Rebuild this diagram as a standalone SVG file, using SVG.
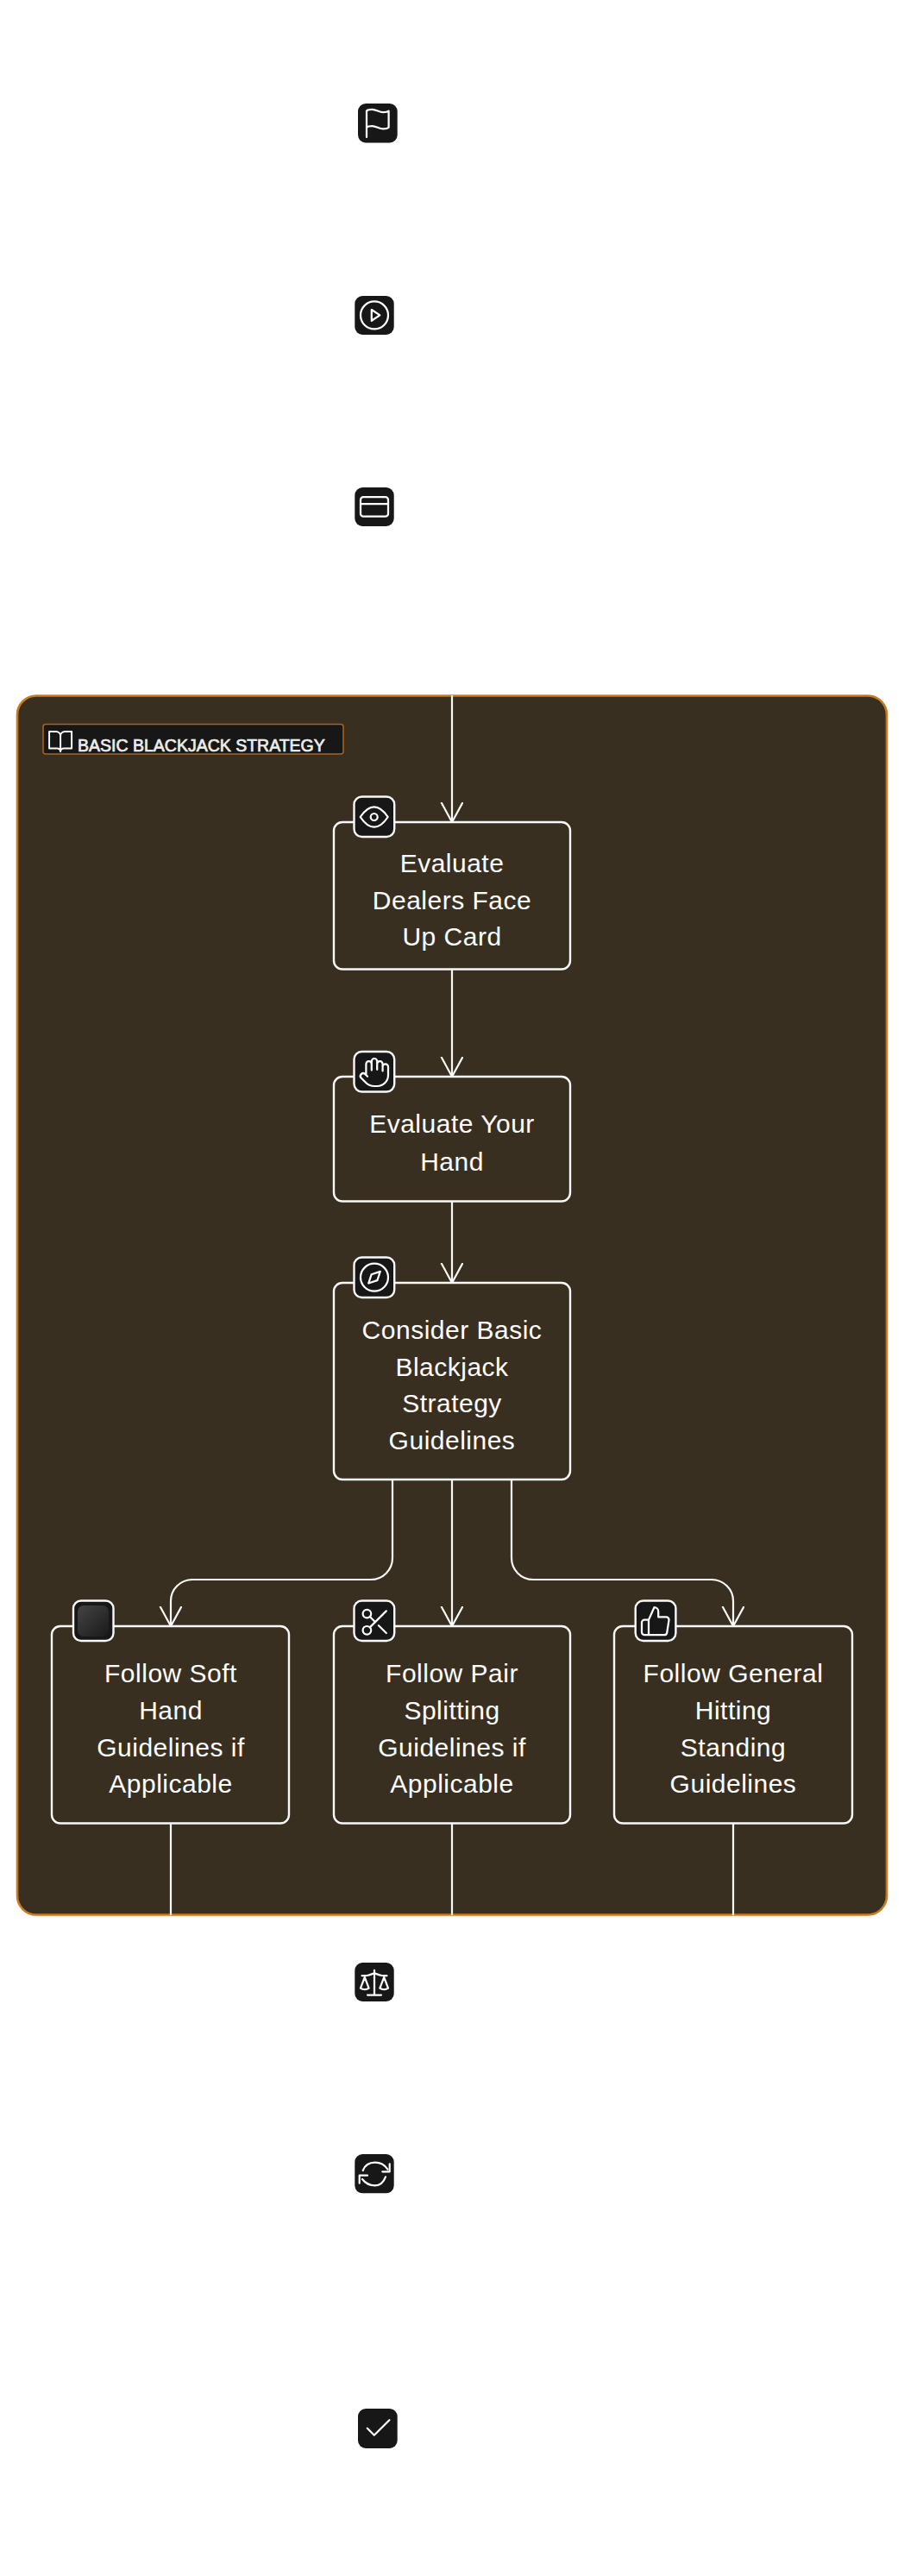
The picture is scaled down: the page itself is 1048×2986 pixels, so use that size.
<svg xmlns="http://www.w3.org/2000/svg" width="1048" height="2986" viewBox="0 0 1048 2986">
<style>
.ic{fill:none;stroke:#fff;stroke-width:1.4;stroke-linecap:round;stroke-linejoin:round}
.free{fill:#171717;stroke:none}
.badge{fill:#171717;stroke:#f8f8f8;stroke-width:2.4}
.box{fill:#392f20;stroke:#f8f8f8;stroke-width:2.4}
.edge{fill:none;stroke:#f8f8f8;stroke-width:2.2}
.t{font-family:"Liberation Sans",Arial,sans-serif;font-size:30px;letter-spacing:.5px;fill:#fff;text-anchor:middle}
.title{font-family:"Liberation Sans",Arial,sans-serif;font-size:19.500px;fill:#ececec;stroke:#ececec;stroke-width:.7}
</style>
<defs>
<marker id="arrow" markerUnits="userSpaceOnUse" markerWidth="28" markerHeight="28" refX="23" refY="13" orient="auto">
<path d="M0 .5L23 13L0 25.500" fill="none" stroke="#f8f8f8" stroke-width="2.200"/>
</marker>
<linearGradient id="blank" x1="0" y1="0" x2="1" y2="1"><stop offset="0" stop-color="#444"/><stop offset="1" stop-color="#1a1a1a"/></linearGradient>
</defs>
<rect width="1048" height="2986" fill="#fff"/>
<g id="cluster-strategy">
<rect x="20" y="806.500" width="1008" height="1413" rx="22" fill="#392f20" stroke="#c97a1e" stroke-width="2.600"/>
<rect x="50" y="839.500" width="348" height="34.500" rx="3" fill="#171717" stroke="#a9651f" stroke-width="1.500"/>
<g class="ic" transform="translate(54.500,844) scale(1.3)" style="stroke-width:1.500"><path d="M2 3h6a4 4 0 0 1 4 4v14a3 3 0 0 0-3-3H2zM22 3h-6a4 4 0 0 0-4 4v14a3 3 0 0 1 3-3h7z"/></g>
<text class="title" x="90" y="871">BASIC BLACKJACK STRATEGY</text>
</g>
<g id="node-start"><rect class="free" x="415" y="120" width="45.700" height="45.500" rx="9"/><g class="ic" transform="translate(418.600,123.700) scale(1.6)"><path d="M4 15s1-1 4-1 5 2 8 2 4-1 4-1V3s-1 1-4 1-5-2-8-2-4 1-4 1zM4 22v-7"/></g></g>
<g id="node-play"><rect class="free" x="411.300" y="343" width="45.400" height="45" rx="9"/><g class="ic" transform="translate(414.800,346.200) scale(1.6)"><circle cx="12" cy="12" r="10"/><path d="M10 8l6 4-6 4z"/></g></g>
<g id="node-card"><rect class="free" x="411.300" y="565" width="45.400" height="45" rx="9"/><g class="ic" transform="translate(414.800,568.200) scale(1.6)"><rect x="2" y="5" width="20" height="14" rx="2"/><path d="M2 10h20"/></g></g>
<g id="connectors">
<path class="edge" d="M524 806V953" marker-end="url(#arrow)"/>
<path class="edge" d="M524 1124V1248" marker-end="url(#arrow)"/>
<path class="edge" d="M524 1393V1487" marker-end="url(#arrow)"/>
<path class="edge" d="M455 1715V1806a25 25 0 0 1-25 25H223a25 25 0 0 0-25 25V1885" marker-end="url(#arrow)"/>
<path class="edge" d="M524 1715V1885" marker-end="url(#arrow)"/>
<path class="edge" d="M593 1715V1806a25 25 0 0 0 25 25H825a25 25 0 0 1 25 25V1885" marker-end="url(#arrow)"/>
</g>
<g id="node-dealer"><rect class="box" x="387" y="953" width="274" height="170.500" rx="10"/><rect class="badge" x="410.500" y="923.500" width="46.700" height="46.500" rx="9"/><g class="ic" transform="translate(414.500,927.800) scale(1.6)"><path d="M2 12C5 7.500 8.500 4.700 12 4.700S19 7.500 22 12C19 16.500 15.500 19.300 12 19.300S5 16.500 2 12Z"/><circle cx="12" cy="12" r="2.500"/></g>
<text class="t" x="524" y="1011">Evaluate</text><text class="t" x="524" y="1054">Dealers Face</text><text class="t" x="524" y="1096">Up Card</text></g>
<g id="node-hand"><rect class="box" x="387" y="1248" width="274" height="144.500" rx="10"/><rect class="badge" x="410.500" y="1219" width="46.700" height="46.500" rx="9"/><g class="ic" transform="translate(414.800,1223.800) scale(1.6)"><path d="M18 11V6a2 2 0 0 0-4 0M14 10V4a2 2 0 0 0-4 0v2M10 10.500V6a2 2 0 0 0-4 0v8M18 8a2 2 0 1 1 4 0v6a8 8 0 0 1-8 8h-2c-2.800 0-4.500-.86-5.990-2.340l-3.600-3.600a2 2 0 0 1 2.830-2.820L7 15"/></g>
<text class="t" x="524" y="1313">Evaluate Your</text><text class="t" x="524" y="1357">Hand</text></g>
<g id="node-consider"><rect class="box" x="387" y="1487" width="274" height="228" rx="10"/><rect class="badge" x="410.500" y="1457.500" width="46.700" height="46.500" rx="9"/><g class="ic" transform="translate(414.800,1461.500) scale(1.6)"><circle cx="12" cy="12" r="10"/><path d="M16.240 7.760l-2.120 6.360-6.360 2.120 2.120-6.360z"/></g>
<text class="t" x="524" y="1552">Consider Basic</text><text class="t" x="524" y="1595">Blackjack</text><text class="t" x="524" y="1637">Strategy</text><text class="t" x="524" y="1680">Guidelines</text></g>
<g id="node-soft"><rect class="box" x="60" y="1885" width="275" height="228.500" rx="10"/><rect class="badge" x="85" y="1855.500" width="46.500" height="46.500" rx="9"/><rect x="90" y="1861" width="36" height="36" rx="7" fill="url(#blank)"/>
<text class="t" x="198" y="1950">Follow Soft</text><text class="t" x="198" y="1993">Hand</text><text class="t" x="198" y="2036">Guidelines if</text><text class="t" x="198" y="2078">Applicable</text></g>
<g id="node-pair"><rect class="box" x="387" y="1885" width="274" height="228.500" rx="10"/><rect class="badge" x="410.500" y="1855.500" width="46.700" height="46.500" rx="9"/><g class="ic" transform="translate(415.800,1861) scale(1.6)"><circle cx="6" cy="6" r="3"/><circle cx="6" cy="18" r="3"/><path d="M20 4L8.120 15.880M14.470 14.480L20 20M8.120 8.120L12 12"/></g>
<text class="t" x="524" y="1950">Follow Pair</text><text class="t" x="524" y="1993">Splitting</text><text class="t" x="524" y="2036">Guidelines if</text><text class="t" x="524" y="2078">Applicable</text></g>
<g id="node-general"><rect class="box" x="712" y="1885" width="276" height="228.500" rx="10"/><rect class="badge" x="736.700" y="1855.500" width="46.700" height="46.500" rx="9"/><g class="ic" transform="translate(740.800,1860) scale(1.6)"><path d="M14 9V5a3 3 0 0 0-3-3l-4 9v11h11.280a2 2 0 0 0 2-1.700l1.380-9a2 2 0 0 0-2-2.300zM7 22H4a2 2 0 0 1-2-2v-7a2 2 0 0 1 2-2h3"/></g>
<text class="t" x="850" y="1950">Follow General</text><text class="t" x="850" y="1993">Hitting</text><text class="t" x="850" y="2036">Standing</text><text class="t" x="850" y="2078">Guidelines</text></g>
<g id="exits"><path class="edge" d="M198 2114V2220M524 2114V2220M850 2114V2220"/></g>
<g id="node-balance"><rect class="free" x="411.300" y="2275" width="45.400" height="45" rx="9"/><g class="ic" transform="translate(414.800,2279) scale(1.6)"><path d="M16 16l3-8 3 8c-.87.65-1.920 1-3 1s-2.130-.35-3-1zM2 16l3-8 3 8c-.87.65-1.920 1-3 1s-2.130-.35-3-1zM7 21h10M12 3v18M3 7h2c2 0 5-1 7-2 2 1 5 2 7 2h2"/></g></g>
<g id="node-refresh"><rect class="free" x="411.300" y="2497" width="45.400" height="45.300" rx="9"/><path d="M420.700 2516C423 2510 428 2506.700 434.700 2506.700C441 2506.700 446 2509.500 449.300 2514.500M451.700 2508.300V2517.300H443.300M447 2523.300C444.500 2530 440 2533.300 434.700 2533.300C428 2533.300 423 2530 420 2526M416.700 2530.700V2521.700H426" fill="none" stroke="#fff" stroke-width="2.200" stroke-linecap="round" stroke-linejoin="round"/></g>
<g id="node-check"><rect class="free" x="415" y="2792" width="45.700" height="46" rx="9"/><g class="ic" transform="translate(419.400,2795.600) scale(1.6)"><path d="M20 6L9 17L4 12"/></g></g>
</svg>
